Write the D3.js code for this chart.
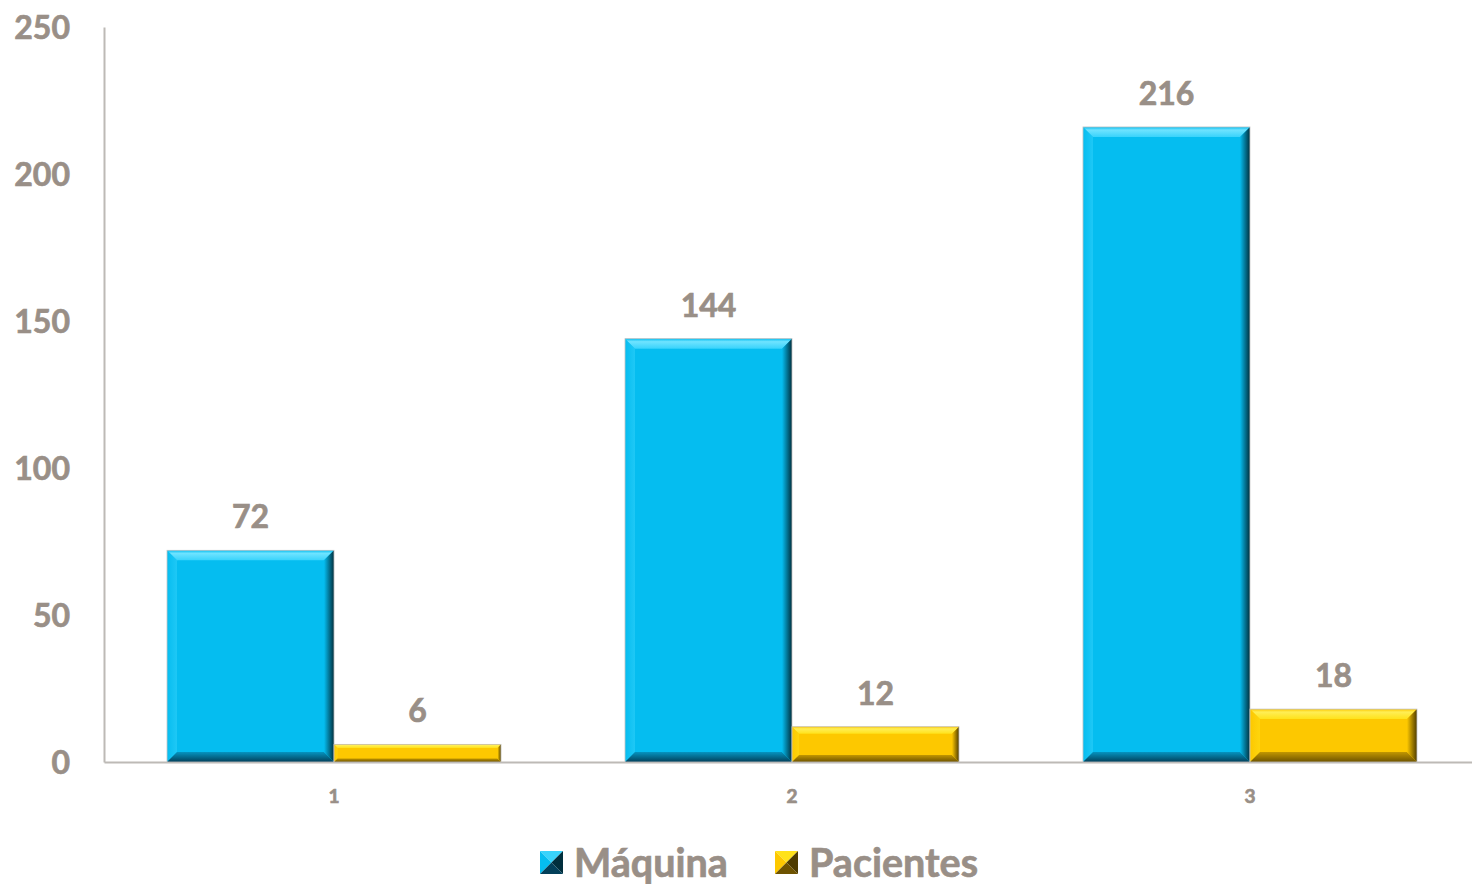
<!DOCTYPE html>
<html>
<head>
<meta charset="utf-8">
<script src="https://cdn.jsdelivr.net/npm/d3@7"></script>
<style>
  body { margin: 0; background: #fff; }
  text { font-family: Lato, "Open Sans", sans-serif; font-weight: 700; fill: #998f87; stroke: #998f87; stroke-width: 0.7px; }
</style>
</head>
<body>
<div id="chart"></div>
<script>
// chart data
const categories = ["1", "2", "3"];
const seriesNames = ["Máquina", "Pacientes"];
const maquina = [72, 144, 216];
const pacientes = [6, 12, 18];
const yTicks = [0, 50, 100, 150, 200, 250];

const width = 1472, height = 884;
const margin = {top: 27, right: -8, bottom: 122, left: 104};

// colours per series
const colors = [
  {face: "#05bdf0", light: "#6fe3ff", top: "#39d3fb", dark: "#012f3d", mid: "#0594c0", bottom: "#03405a"},
  {face: "#fdc800", light: "#ffee55", top: "#ffe21a", dark: "#4f3c00", mid: "#c29700", bottom: "#6e5300"}
];

const svg = d3.select("#chart").append("svg")
  .attr("width", width).attr("height", height);

const x0 = d3.scaleBand()
  .domain(categories)
  .range([margin.left, width - margin.right])
  .paddingInner(0.2707)
  .paddingOuter(0.1376);

const x1 = d3.scaleBand()
  .domain(seriesNames)
  .range([0, x0.bandwidth()]);

const y = d3.scaleLinear()
  .domain([0, 250])
  .range([height - margin.bottom, margin.top]);

// y axis
svg.append("g")
  .attr("transform", `translate(${margin.left},0)`)
  .call(d3.axisLeft(y).tickValues(yTicks).tickSize(0).tickPadding(34))
  .call(g => g.select(".domain").attr("stroke", "#bdbab6").attr("stroke-width", 2))
  .selectAll("text").attr("font-size", 32).attr("dy", "0.36em");

// x axis
svg.append("g")
  .attr("transform", `translate(0,${height - margin.bottom})`)
  .call(d3.axisBottom(x0).tickSize(0).tickPadding(28))
  .call(g => g.select(".domain").attr("stroke", "#bdbab6").attr("stroke-width", 2))
  .selectAll("text").attr("font-size", 19);

const defs = svg.append("defs");
function grad(id, x2, y2, stops) {
  const lg = defs.append("linearGradient").attr("id", id)
    .attr("x1", 0).attr("y1", 0).attr("x2", x2).attr("y2", y2);
  stops.forEach(s => lg.append("stop").attr("offset", s[0]).attr("stop-color", s[1]));
}
colors.forEach((c, i) => {
  grad("gt" + i, 0, 1, [[0, c.face], [0.3, c.light], [1, c.top]]);
  grad("gl" + i, 1, 0, [[0, c.face], [1, c.top]]);
  grad("gr" + i, 1, 0, [[0, c.face], [1, c.dark]]);
  grad("gb" + i, 0, 1, [[0, c.mid], [1, c.bottom]]);
});

// bevelled bar
function bevelBar(g, bx, by, bw, bh, i) {
  const c = colors[i];
  const b = Math.min(10, bh * 0.2);
  g.append("rect").attr("x", bx).attr("y", by).attr("width", bw).attr("height", bh)
    .attr("fill", c.face);
  const pts = arr => arr.map(p => p.join(",")).join(" ");
  const tl = [bx, by], tr = [bx + bw, by], br = [bx + bw, by + bh], bl = [bx, by + bh];
  const itl = [bx + b, by + b], itr = [bx + bw - b, by + b],
        ibr = [bx + bw - b, by + bh - b], ibl = [bx + b, by + bh - b];
  g.append("polygon").attr("points", pts([tl, tr, itr, itl])).attr("fill", `url(#gt${i})`);
  g.append("polygon").attr("points", pts([tl, itl, ibl, bl])).attr("fill", `url(#gl${i})`).attr("opacity", 0.5);
  g.append("polygon").attr("points", pts([bl, ibl, ibr, br])).attr("fill", `url(#gb${i})`);
  g.append("polygon").attr("points", pts([tr, br, ibr, itr])).attr("fill", `url(#gr${i})`);
  g.append("rect").attr("x", bx).attr("y", by).attr("width", bw).attr("height", bh)
    .attr("fill", "none").attr("stroke", "#c4c4c4").attr("stroke-width", 0.8);
}

const series = [maquina, pacientes];
const bars = svg.append("g");
categories.forEach((cat, ci) => {
  series.forEach((vals, si) => {
    const bx = x0(cat) + x1(seriesNames[si]);
    const by = y(vals[ci]);
    bevelBar(bars, bx, by, x1.bandwidth(), y(0) - by, si);
    svg.append("text")
      .attr("x", bx + x1.bandwidth() / 2)
      .attr("y", by - 22)
      .attr("text-anchor", "middle")
      .attr("font-size", 32)
      .text(vals[ci]);
  });
});

// legend
const legendX = [540, 775];
legendX.forEach((lx, i) => {
  const c = colors[i];
  const s = 23, ly = 851;
  const g = svg.append("g");
  const cx = lx + s / 2, cy = ly + s / 2;
  g.append("polygon").attr("points", `${lx},${ly} ${lx + s},${ly} ${cx},${cy}`).attr("fill", c.top);
  g.append("polygon").attr("points", `${lx},${ly} ${cx},${cy} ${lx},${ly + s}`).attr("fill", c.face);
  g.append("polygon").attr("points", `${lx + s},${ly} ${lx + s},${ly + s} ${cx},${cy}`).attr("fill", c.dark);
  g.append("polygon").attr("points", `${lx},${ly + s} ${lx + s},${ly + s} ${cx},${cy}`).attr("fill", c.bottom);
  svg.append("text")
    .attr("x", lx + s + 11)
    .attr("y", ly + s / 2)
    .attr("dy", "0.36em")
    .attr("font-size", 39.5)
    .text(seriesNames[i]);
});
</script>
</body>
</html>
